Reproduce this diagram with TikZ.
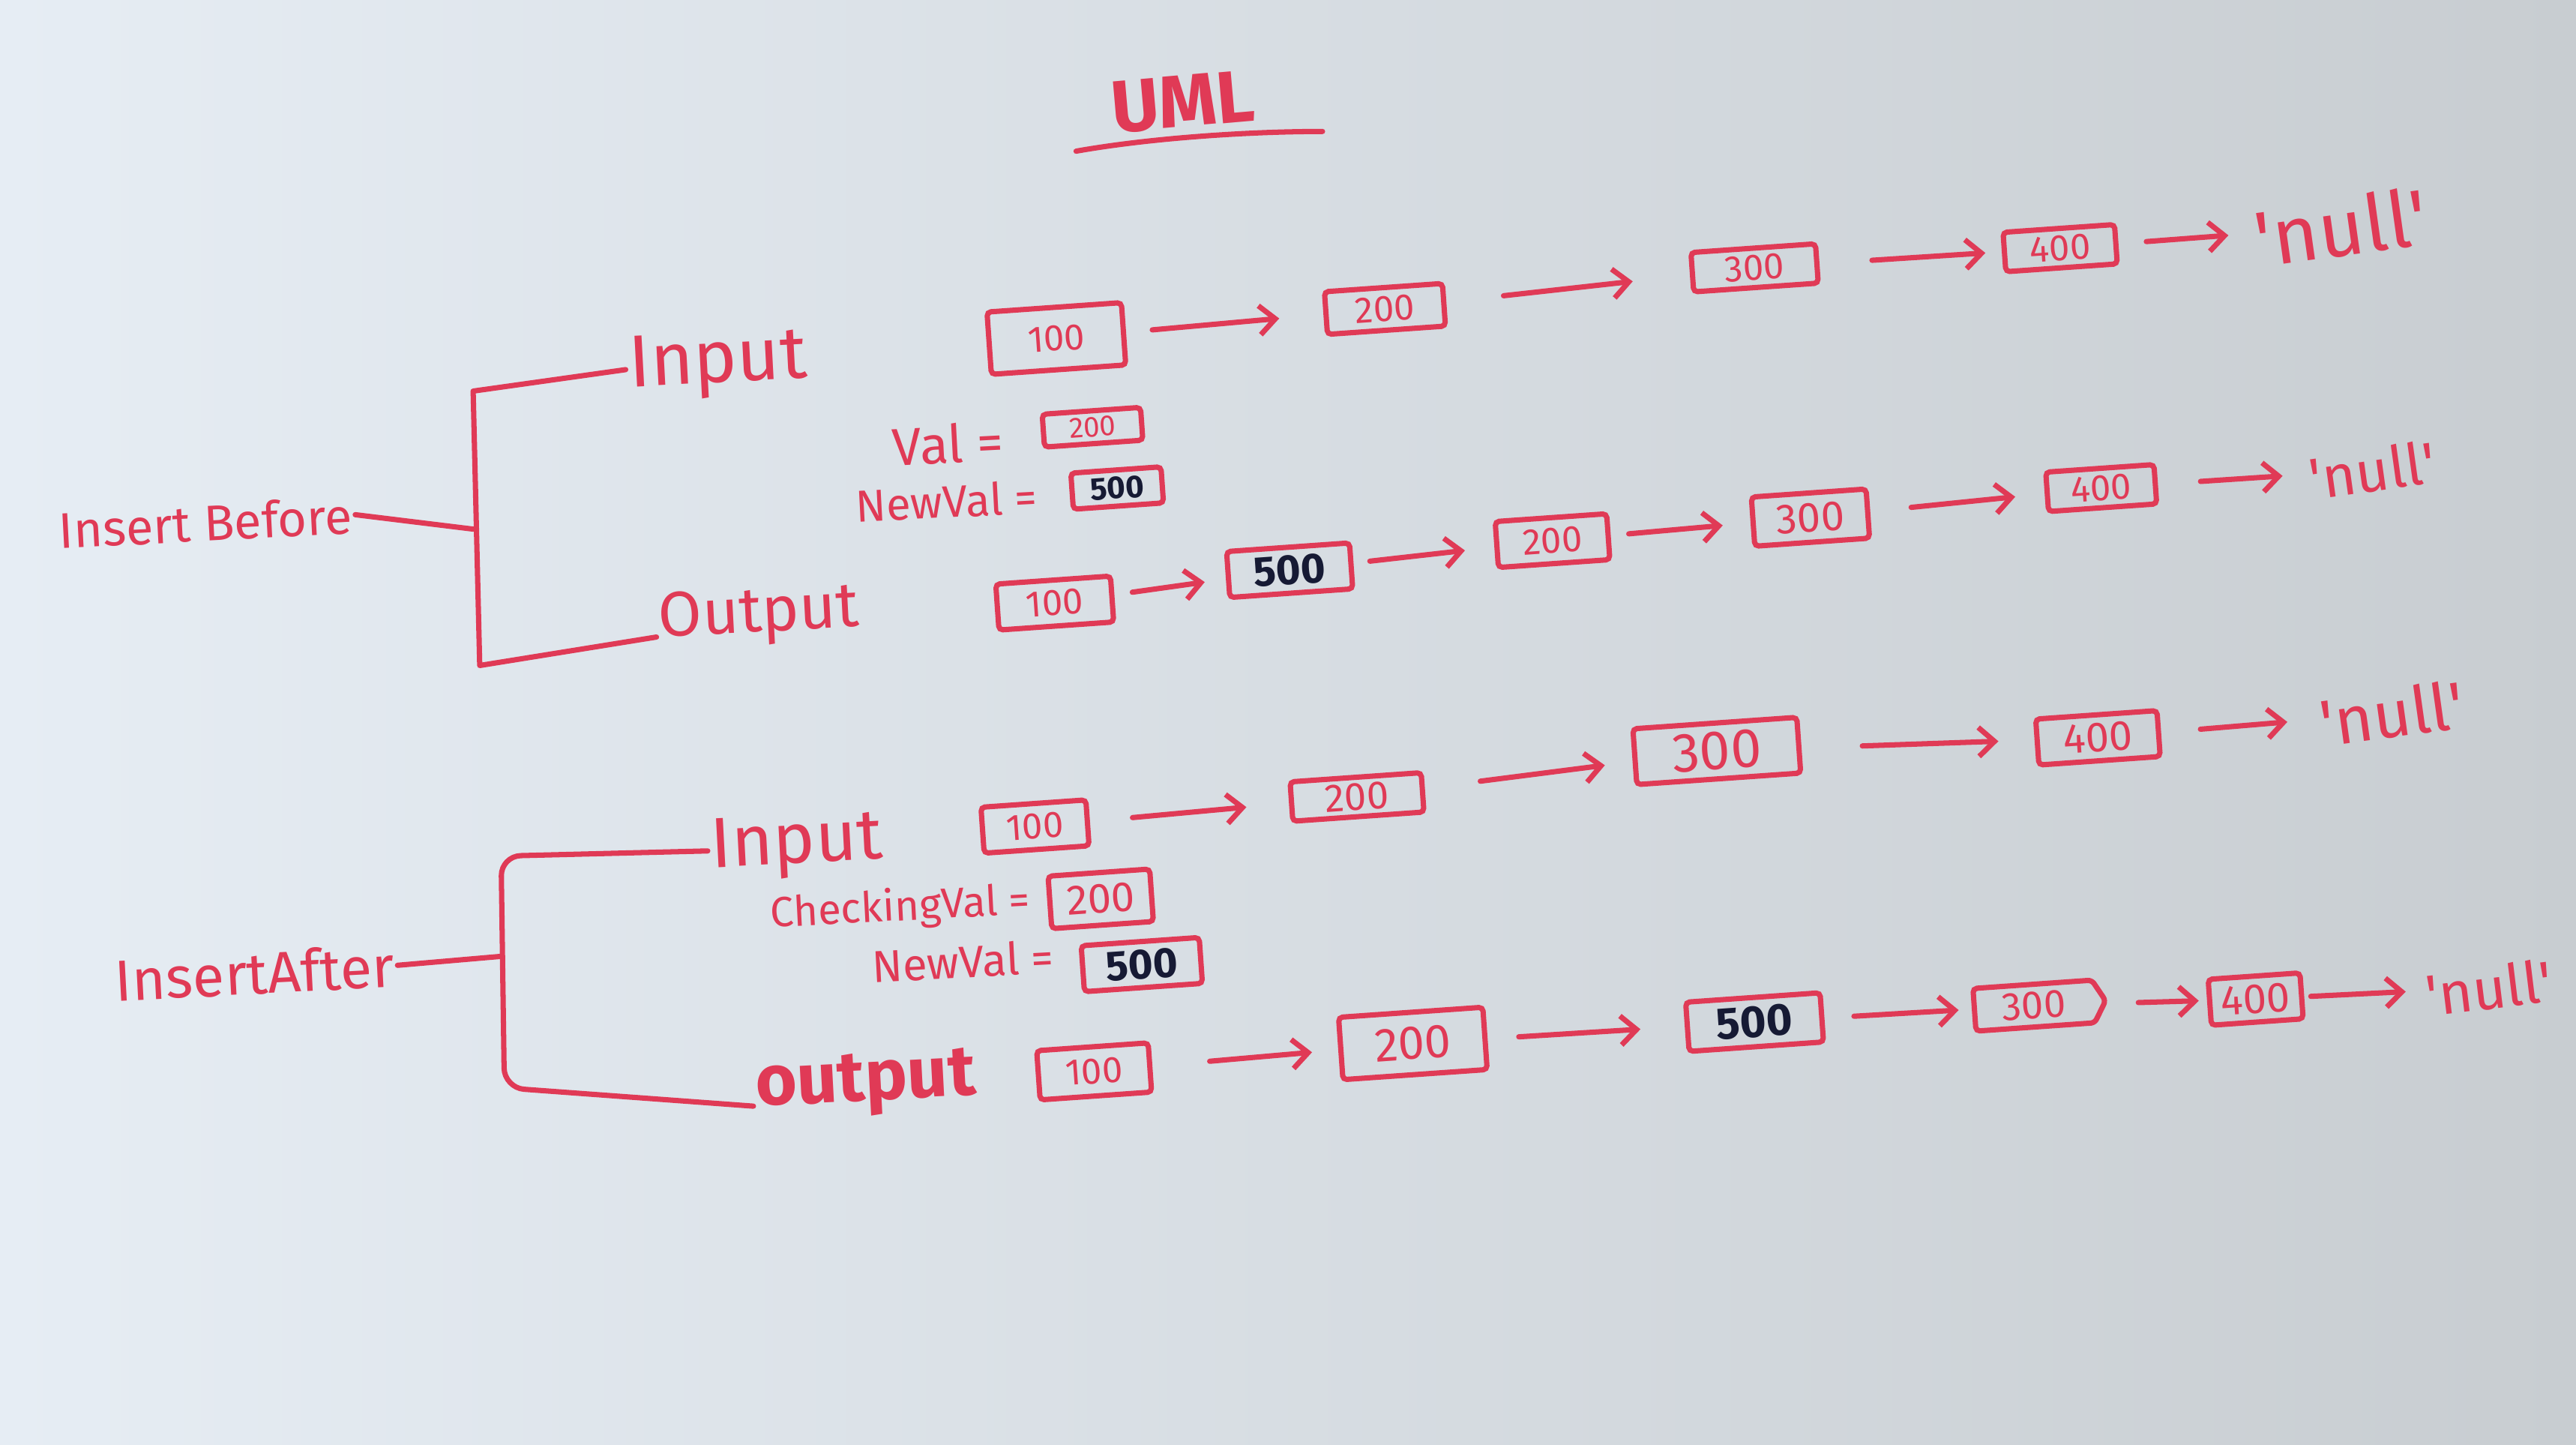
\documentclass[tikz,border=0pt]{standalone}
\usepackage{fontspec}
\setmainfont{Fira Sans}
\usetikzlibrary{arrows.meta,shapes.symbols}
\newlength{\ux}\setlength{\ux}{0.021913cm}
\definecolor{mk}{RGB}{224,58,86}
\definecolor{nv}{RGB}{22,26,52}
\definecolor{bgl}{RGB}{230,237,244}
\definecolor{bgm}{RGB}{216,223,230}
\definecolor{bgr}{RGB}{200,205,209}
\newcommand{\fsz}[1]{\fontsize{#1}{#1}\selectfont}
\newcommand{\qq}{\textquotesingle}
\begin{document}
\begin{tikzpicture}[x=0.021913cm,y=-0.021913cm,
  box/.style={draw=mk,line width=2pt,rounded corners=1.5pt,inner sep=1pt,text=mk,font=\fsz{14pt},rotate=4},
  lbl/.style={text=mk,inner sep=1pt,rotate=3},
  link/.style={draw=mk,line width=2pt,line cap=round,-{Straight Barb[length=6pt,width=11pt,line width=2pt]}},
  lk/.style 2 args={link,shorten <=#1\ux,shorten >=#2\ux},
  brace/.style={draw=mk,line width=2pt,line join=round,line cap=round}]
\useasboundingbox (0,0) rectangle (1568,879);
\shade[left color=bgl,middle color=bgm,right color=bgr] (0,0) rectangle (1568,879);

% title
\node[lbl,font=\fsz{28pt}\bfseries,rotate=2] (uml) at (720,62) {UML};
\coordinate (ulA) at (655,92);
\coordinate (ulB) at (805,80);
\draw[brace] (ulA) .. controls (700,84) and (760,80) .. (ulB);

% ---------- Insert Before ----------
\node[lbl,font=\fsz{19pt},rotate=0] (ib) at (125,318) {Insert Before};
\coordinate (bAm) at (288,322);
\coordinate (bAt) at (288,238);
\coordinate (bAb) at (292,405);
\node[lbl,font=\fsz{28pt}] (inA) at (437,222) {Input};
\node[lbl,font=\fsz{24pt}] (outA) at (462,375) {Output};
\draw[brace] (ib.east) -- (bAm);
\draw[brace] (inA.west) -- (bAt) -- (bAb) -- (outA.base west);

% row 1
\node[box,minimum width=82\ux,minimum height=38\ux] (a1) at (643,206) {100};
\node[box,minimum width=72\ux,minimum height=26\ux] (a2) at (843,188) {200};
\node[box,minimum width=76\ux,minimum height=24\ux] (a3) at (1068,163) {300};
\node[box,minimum width=68\ux,minimum height=24\ux] (a4) at (1254,151) {400};
\node[lbl,font=\fsz{30pt},rotate=5] (a5) at (1425,138) {\qq null\qq};
\draw[lk={16}{27}] (a1) -- (a2);
\draw[lk={35}{35}] (a2) -- (a3);
\draw[lk={32}{10}] (a3) -- (a4);
\draw[lk={17}{14}] (a4) -- (a5);

\node[lbl,font=\fsz{20pt}] (va) at (577,270) {Val =};
\node[box,minimum width=60\ux,minimum height=20\ux,font=\fsz{11pt}] (vb) at (665,260) {200};
\node[lbl,font=\fsz{17pt}] (nva) at (576,305) {NewVal =};
\node[box,minimum width=55\ux,minimum height=22\ux,font=\fsz{12pt}\bfseries,text=nv] (nvb) at (680,297) {500};

% row 2
\node[box,minimum width=70\ux,minimum height=28\ux] (b1) at (642,367) {100};
\node[box,minimum width=75\ux,minimum height=28\ux,font=\fsz{16pt}\bfseries,text=nv] (b2) at (785,347) {500};
\node[box,minimum width=68\ux,minimum height=28\ux] (b3) at (945,329) {200};
\node[box,minimum width=70\ux,minimum height=30\ux,font=\fsz{16pt}] (b4) at (1102,315) {300};
\node[box,minimum width=66\ux,minimum height=24\ux] (b5) at (1279,297) {400};
\node[lbl,font=\fsz{22pt},rotate=5] (b6) at (1444,286) {\qq null\qq};
\draw[lk={11}{13}] (b1) -- (b2);
\draw[lk={10}{18}] (b2) -- (b3);
\draw[lk={11}{17}] (b3) -- (b4);
\draw[lk={25}{18}] (b4) -- (b5);
\draw[lk={26}{14}] (b5) -- (b6);

% ---------- InsertAfter ----------
\node[lbl,font=\fsz{22pt},rotate=0] (ia) at (155,592) {InsertAfter};
\coordinate (bBm) at (305,582);
\coordinate (bBt) at (305,521);
\coordinate (bBb) at (307,662);
\node[lbl,font=\fsz{27pt}] (inB) at (485,515) {Input};
\node[lbl,font=\fsz{27pt}\bfseries] (outB) at (527,660) {output};
\draw[brace] (ia.east) -- (bBm);
\draw[brace,rounded corners=12\ux] (inB.west) -- (bBt) -- (bBb) -- (outB.base west);

% row 3
\node[box,minimum width=64\ux,minimum height=28\ux] (c1) at (630,503) {100};
\node[box,minimum width=80\ux,minimum height=24\ux,font=\fsz{15pt}] (c2) at (826,485) {200};
\node[box,minimum width=100\ux,minimum height=34\ux,font=\fsz{21pt}] (c3) at (1045,457) {300};
\node[box,minimum width=74\ux,minimum height=28\ux,font=\fsz{16pt}] (c4) at (1277,449) {400};
\node[lbl,font=\fsz{25pt},rotate=5] (c5) at (1456,434) {\qq null\qq};
\draw[lk={26}{26}] (c1) -- (c2);
\draw[lk={34}{17}] (c2) -- (c3);
\draw[lk={37}{22}] (c3) -- (c4);
\draw[lk={24}{18}] (c4) -- (c5);

\node[lbl,font=\fsz{16pt}] (cv) at (548,553) {CheckingVal =};
\node[box,minimum width=62\ux,minimum height=32\ux,font=\fsz{16pt}] (cvb) at (670,547) {200};
\node[lbl,font=\fsz{17pt}] (nvc) at (586,585) {NewVal =};
\node[box,minimum width=72\ux,minimum height=28\ux,font=\fsz{16pt}\bfseries,text=nv] (nvcb) at (695,587) {500};

% row 4
\node[box,minimum width=68\ux,minimum height=30\ux] (d1) at (666,652) {100};
\node[box,minimum width=88\ux,minimum height=38\ux,font=\fsz{18pt}] (d2) at (860,635) {200};
\node[box,minimum width=82\ux,minimum height=30\ux,font=\fsz{17pt}\bfseries,text=nv] (d3) at (1068,622) {500};
\node[box,shape=signal,signal to=east,signal pointer angle=120,minimum width=80\ux,minimum height=26\ux,font=\fsz{15pt}] (d4) at (1238,612) {300};
\node[box,minimum width=56\ux,minimum height=28\ux,font=\fsz{16pt}] (d5) at (1373,608) {400};
\node[lbl,font=\fsz{22pt},rotate=4] (d6) at (1515,601) {\qq null\qq};
\draw[lk={35}{16}] (d1) -- (d2);
\draw[lk={19}{27}] (d2) -- (d3);
\draw[lk={18}{8}] (d3) -- (d4);
\draw[lk={19}{5}] (d4) -- (d5);
\draw[lk={4}{10}] (d5) -- (d6);
\end{tikzpicture}
\end{document}
